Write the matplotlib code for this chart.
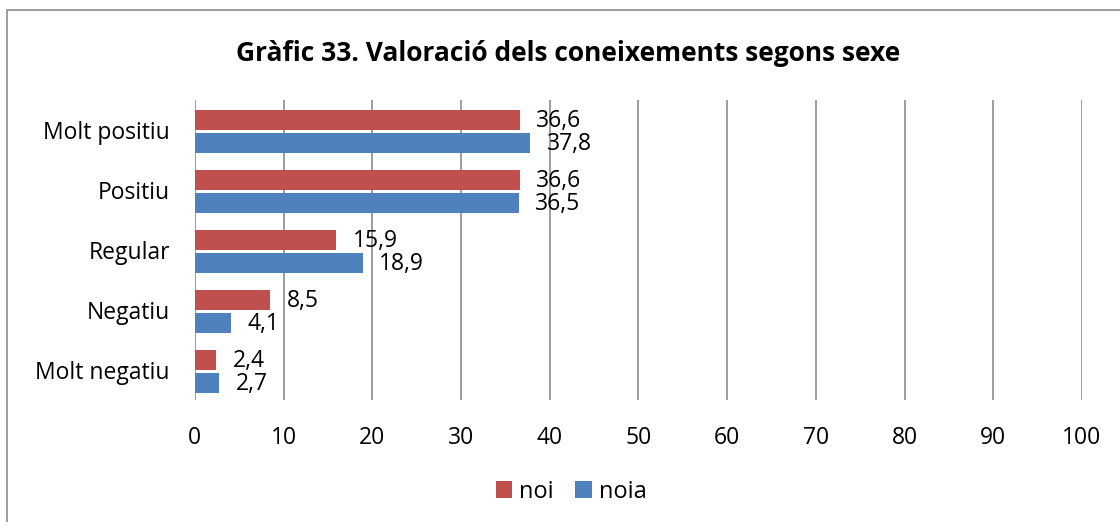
import numpy as np
import matplotlib.pyplot as plt
from matplotlib.patches import Rectangle

categories = ["Molt positiu", "Positiu", "Regular", "Negatiu", "Molt negatiu"]
noi = [36.6, 36.6, 15.9, 8.5, 2.4]
noia = [37.8, 36.5, 18.9, 4.1, 2.7]
xticks = [0, 10, 20, 30, 40, 50, 60, 70, 80, 90, 100]

red = "#C0504D"
blue = "#4F81BD"
plt.rcParams['font.family'] = ['Open Sans', 'DejaVu Sans']

fig = plt.figure(figsize=(11.2, 5.22), dpi=100)
ax = fig.add_axes([0.174, 0.2337, 0.792, 0.5747])

# marc del grafic (retallat a dreta i a baix)
fig.patches.append(Rectangle((7 / 1120, -0.1), 1.2, 1 - 10 / 522 + 0.1,
                             transform=fig.transFigure, fill=False,
                             edgecolor="#8c8c8c", linewidth=1.2))

y = np.arange(len(categories))[::-1]
h = 0.33
ax.barh(y + 0.17, noi, height=h, color=red, label="noi")
ax.barh(y - 0.21, noia, height=h, color=blue, label="noia")

for yi, v in zip(y + 0.17, noi):
    ax.annotate(f"{v:.1f}".replace(".", ","), (v, yi), xytext=(12, -1),
                textcoords="offset points", va="center", fontsize=16.5)
for yi, v in zip(y - 0.21, noia):
    ax.annotate(f"{v:.1f}".replace(".", ","), (v, yi), xytext=(12, -1),
                textcoords="offset points", va="center", fontsize=16.5)

ax.set_xlim(0, 100)
ax.set_ylim(-0.5, 4.5)
ax.set_xticks(xticks)
ax.set_yticks(y)
ax.set_yticklabels(categories)
ax.tick_params(axis="both", length=0, labelsize=16.5)
ax.tick_params(axis="y", pad=18)
ax.tick_params(axis="x", pad=19)
ax.grid(axis="x", color="#8c8c8c", linewidth=1.2)
ax.set_axisbelow(True)
for s in ax.spines.values():
    s.set_visible(False)

fig.text(0.507, 0.897, "Gràfic 33. Valoració dels coneixements segons sexe",
         ha="center", va="center", fontsize=19, fontweight="bold")

fig.legend(loc="center", bbox_to_anchor=(0.51, 0.058), ncol=2, frameon=False,
           fontsize=17, handlelength=0.7, handleheight=0.7, handletextpad=0.3,
           columnspacing=0.9)

plt.savefig("out.png")
